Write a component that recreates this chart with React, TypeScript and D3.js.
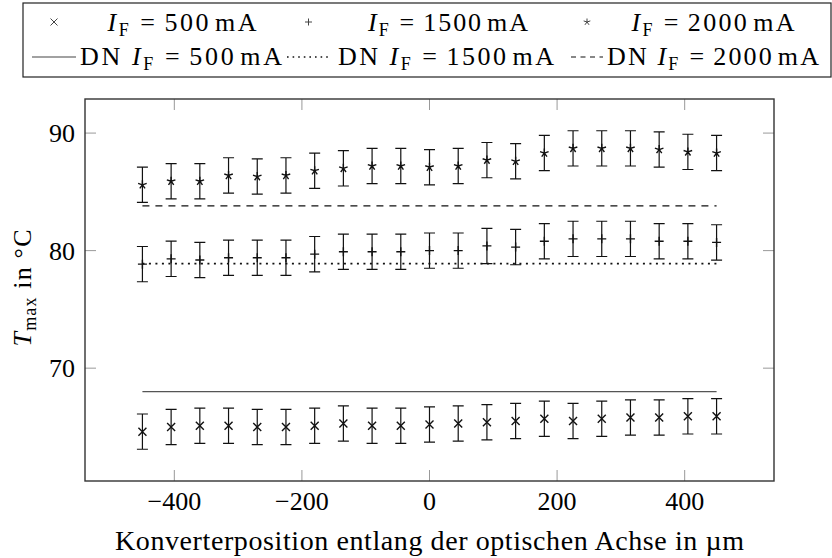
import { useEffect } from 'react'
import * as d3 from 'd3'

// positions along the optical axis (µm)
const positions = [
  -450, -405, -360, -315, -270, -225, -180, -135, -90, -45, 0, 45, 90, 135, 180, 225, 270, 315, 360,
  405, 450,
]

// measured T_max (°C)
const tmax500 = [
  64.6, 65.0, 65.1, 65.1, 65.0, 65.0, 65.1, 65.3, 65.1, 65.1, 65.2, 65.3, 65.4, 65.5, 65.7, 65.5,
  65.7, 65.8, 65.8, 65.9, 65.9,
]
const tmax1500 = [
  78.85, 79.3, 79.2, 79.4, 79.4, 79.4, 79.7, 79.9, 79.9, 79.9, 80.0, 80.0, 80.4, 80.3, 80.8, 81.0,
  81.0, 81.0, 80.8, 80.8, 80.7,
]
const tmax2000 = [
  85.6, 85.9, 85.9, 86.4, 86.3, 86.4, 86.8, 87.0, 87.2, 87.2, 87.1, 87.2, 87.7, 87.6, 88.3, 88.7,
  88.7, 88.7, 88.6, 88.4, 88.3,
]
// half height of the error bars per series
const errHalf = [1.5, 1.5, 1.5]

// DN reference values (°C)
const dnLevels = [68.0, 78.9, 83.8]

const currents = ['500', '1500', '2000']
const xTicks = [-400, -200, 0, 200, 400]
const yTicks = [70, 80, 90]

const FONT = "'Liberation Serif', 'Times New Roman', serif"

const margin = { left: 85, right: 774, top: 99, bottom: 481 }

type Mark = 'cross' | 'plus' | 'star'
const marks: Mark[] = ['cross', 'plus', 'star']
const dashes = ['none', '2 4.5', '7 6']

function markPath(kind: Mark, cx: number, cy: number, r: number) {
  const p = d3.path()
  if (kind === 'cross') {
    p.moveTo(cx - r, cy - r)
    p.lineTo(cx + r, cy + r)
    p.moveTo(cx - r, cy + r)
    p.lineTo(cx + r, cy - r)
  } else if (kind === 'plus') {
    p.moveTo(cx - r, cy)
    p.lineTo(cx + r, cy)
    p.moveTo(cx, cy - r)
    p.lineTo(cx, cy + r)
  } else {
    for (let k = 0; k < 5; k++) {
      const a = -Math.PI / 2 + (k * 2 * Math.PI) / 5
      p.moveTo(cx, cy)
      p.lineTo(cx + r * Math.cos(a), cy + r * Math.sin(a))
    }
  }
  return p.toString()
}

// I_F = ... mA label, optional DN prefix
const CurrentLabel = ({ x, y, value, dn, len }: { x: number; y: number; value: string; dn: boolean; len: number }) => (
  <text
    x={x}
    y={y}
    fontSize={26}
    fontFamily={FONT}
    textAnchor="middle"
    textLength={len}
    lengthAdjust="spacing"
  >
    {dn ? 'DN ' : ''}
    <tspan fontStyle="italic">I</tspan>
    <tspan fontSize={18} dy={5}>
      F
    </tspan>
    <tspan dy={-5} dx={9}>
      =
    </tspan>
    <tspan dx={7}>{value}</tspan>
    <tspan dx={4}>mA</tspan>
  </text>
)

export default function App() {
  useEffect(() => {
    document.body.style.margin = '0'
  }, [])

  const x = d3.scaleLinear().domain([-540, 540]).range([margin.left, margin.right])
  const y = d3.scaleLinear().domain([60.4, 92.9]).range([margin.bottom, margin.top])

  const series = [tmax500, tmax1500, tmax2000]
  const [xMin, xMax] = d3.extent(positions) as [number, number]
  const line = d3.line<[number, number]>()
  const fmt = d3.format('d')

  // legend cells
  const legImg = [
    [32, 76],
    [287, 330],
    [571, 603],
  ]
  const legText1 = [
    { cx: 182, len: 149 },
    { cx: 448, len: 160 },
    { cx: 713, len: 163 },
  ]
  const legText2 = [
    { cx: 181, len: 202 },
    { cx: 446, len: 216 },
    { cx: 713, len: 212 },
  ]

  return (
    <svg
      width={832}
      height={558}
      style={{ position: 'fixed', left: 0, top: 0, background: '#fff' }}
      fontFamily={FONT}
    >
      {/* legend */}
      <rect x={23} y={3} width={808} height={74} fill="#fff" stroke="#222" strokeWidth={1.2} />
      {currents.map((c, i) => {
        const [a, b] = legImg[i]
        return (
          <g key={'leg' + c}>
            <path d={markPath(marks[i], (a + b) / 2, 22, 3.5)} stroke="#444" strokeWidth={1} fill="none" />
            <CurrentLabel x={legText1[i].cx} y={31} value={c} dn={false} len={legText1[i].len} />
            <path
              d={line([
                [a, 57],
                [b, 57],
              ])!}
              stroke={i === 0 ? '#444' : '#111'}
              strokeWidth={i === 1 ? 1.6 : 1.2}
              strokeDasharray={i === 0 ? undefined : i === 1 ? '1.6 4' : '5 4.5'}
              fill="none"
            />
            <CurrentLabel x={legText2[i].cx} y={65} value={c} dn={true} len={legText2[i].len} />
          </g>
        )
      })}

      {/* DN lines */}
      {dnLevels.map((v, i) => (
        <path
          key={'dn' + i}
          d={line([
            [x(xMin), y(v)],
            [x(xMax), y(v)],
          ])!}
          stroke={i === 0 ? '#555' : '#111'}
          strokeWidth={i === 1 ? 1.8 : 1.3}
          strokeDasharray={dashes[i] === 'none' ? undefined : dashes[i]}
          fill="none"
        />
      ))}

      {/* error bars and marks */}
      {series.map((vals, si) => (
        <g key={'s' + si} stroke="#111" strokeWidth={1.2} fill="none">
          {vals.map((v, j) => {
            const px = x(positions[j])
            const yt = y(v + errHalf[si])
            const yb = y(v - errHalf[si])
            return (
              <g key={j}>
                <path d={`M${px},${yt}V${yb}M${px - 5.5},${yt}H${px + 5.5}M${px - 5.5},${yb}H${px + 5.5}`} />
                <path d={markPath(marks[si], px, y(v), si === 0 ? 4 : 4.5)} strokeWidth={1.4} />
              </g>
            )
          })}
        </g>
      ))}

      {/* ticks, inward on all sides */}
      <g stroke="#999" strokeWidth={1}>
        {xTicks.map((t) => (
          <g key={'xt' + t}>
            <line x1={x(t)} x2={x(t)} y1={margin.bottom} y2={margin.bottom - 11} />
            <line x1={x(t)} x2={x(t)} y1={margin.top} y2={margin.top + 11} />
          </g>
        ))}
        {yTicks.map((t) => (
          <g key={'yt' + t}>
            <line x1={margin.left} x2={margin.left + 11} y1={y(t)} y2={y(t)} />
            <line x1={margin.right} x2={margin.right - 11} y1={y(t)} y2={y(t)} />
          </g>
        ))}
      </g>

      {/* frame */}
      <rect
        x={margin.left}
        y={margin.top}
        width={margin.right - margin.left}
        height={margin.bottom - margin.top}
        fill="none"
        stroke="#333"
        strokeWidth={1.4}
      />

      {/* tick labels */}
      {xTicks.map((t) => (
        <text key={'xl' + t} x={x(t)} y={510} fontSize={26} textAnchor="middle">
          {fmt(t)}
        </text>
      ))}
      {yTicks.map((t) => (
        <text key={'yl' + t} x={75} y={y(t) + 9} fontSize={26} textAnchor="end">
          {fmt(t)}
        </text>
      ))}

      {/* axis labels */}
      <text x={429.5} y={550} fontSize={28} textAnchor="middle" textLength={629} lengthAdjust="spacing">
        Konverterposition entlang der optischen Achse in µm
      </text>
      <text
        transform="translate(31,288) rotate(-90)"
        fontSize={26}
        textAnchor="middle"
        textLength={117}
        lengthAdjust="spacing"
      >
        <tspan fontStyle="italic">T</tspan>
        <tspan fontSize={18} dy={5}>
          max
        </tspan>
        <tspan dy={-5}> in °C</tspan>
      </text>
    </svg>
  )
}
